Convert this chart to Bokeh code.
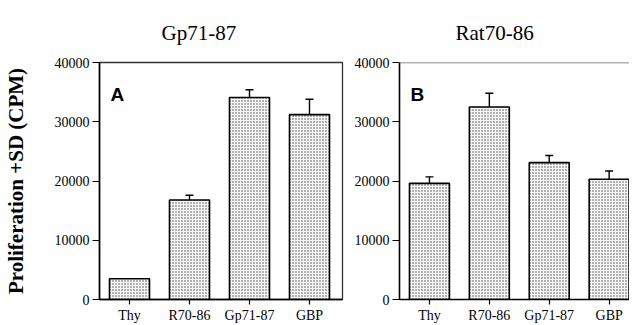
import math
from bokeh.plotting import figure
from bokeh.layouts import row
from bokeh.models import (ColumnDataSource, Whisker, TeeHead, FixedTicker,
                          Label, Span, Range1d)
from bokeh.embed import file_html
from bokeh.resources import INLINE

# ---- data ----
categories = ["Thy", "R70-86", "Gp71-87", "GBP"]
a_values = [3500, 16800, 34100, 31200]
a_sd = [0, 800, 1300, 2600]
b_values = [19600, 32500, 23100, 20300]
b_sd = [1100, 2300, 1200, 1400]
y_ticks = [0, 10000, 20000, 30000, 40000]
titles = ["Gp71-87", "Rat70-86"]
panel_letters = ["A", "B"]
y_label = "Proliferation +SD (CPM)"

SERIF = "Liberation Serif"
SANS = "Liberation Sans"
Y_MAX = 40000


def make_panel(values, sd, title, letter, frame_w, border_right,
               x_end, outline, title_offset):
    xs = list(range(len(categories)))
    src = ColumnDataSource(dict(
        x=xs, top=values, upper=[v + s for v, s in zip(values, sd)]))
    p = figure(frame_width=frame_w, frame_height=237, output_backend="svg",
               toolbar_location=None, title=title,
               x_range=Range1d(-0.5, x_end), y_range=Range1d(0, Y_MAX),
               min_border_left=0, min_border_right=border_right,
               min_border_top=0, min_border_bottom=0)
    p.background_fill_color = "white"
    p.border_fill_color = "white"
    p.grid.visible = False
    p.title.text_font = SERIF
    p.title.text_font_size = "21px"
    p.title.text_font_style = "normal"
    p.title.text_color = "black"
    p.title.align = "left"
    p.title.offset = title_offset
    p.title.standoff = 36
    if outline:
        p.outline_line_color = "#333333"
        p.outline_line_width = 1.3
    else:
        p.outline_line_color = None
        p.add_layout(Span(location=Y_MAX, dimension="width",
                          line_color="#666666", line_width=1.3))

    p.vbar(x="x", top="top", bottom=0, width=0.667, source=src,
           fill_color="#f8f8f8", hatch_pattern="dot", hatch_scale=3,
           hatch_color="#444444", hatch_weight=1,
           line_color="black", line_width=1.6)
    p.add_layout(Whisker(base="x", lower="top", upper="upper", source=src,
                         dimension="height", lower_head=None,
                         upper_head=TeeHead(size=8, line_width=1.4,
                                            line_color="black"),
                         line_width=1.4, line_color="black"))

    for ax in (p.xaxis[0], p.yaxis[0]):
        ax.axis_line_color = "black"
        ax.axis_line_width = 1.6
        ax.major_tick_line_color = "black"
        ax.major_tick_line_width = 1.2
        ax.major_tick_in = 0
        ax.minor_tick_line_color = None
        ax.major_label_text_font = SERIF
        ax.major_label_text_font_size = "14px"
        ax.major_label_text_color = "black"

    p.xaxis.ticker = FixedTicker(ticks=xs)
    p.xaxis.major_label_overrides = {i: c for i, c in enumerate(categories)}
    p.xaxis.major_tick_out = 5
    p.xaxis.major_label_standoff = 3
    p.yaxis.ticker = FixedTicker(ticks=y_ticks)
    p.yaxis.major_tick_out = 7
    p.yaxis.major_label_standoff = 3

    p.add_layout(Label(x=-0.5, y=Y_MAX, x_units="data", y_units="data",
                       x_offset=11, y_offset=-32, text=letter,
                       text_font=SANS, text_font_size="19px",
                       text_font_style="bold", text_align="left",
                       text_baseline="alphabetic", text_color="black"))
    return p


p1 = make_panel(a_values, a_sd, titles[0], panel_letters[0], frame_w=243,
                border_right=9, x_end=3.55, outline=True, title_offset=62)
p1.yaxis.axis_label = y_label
p1.yaxis.axis_label_text_font = SERIF
p1.yaxis.axis_label_text_font_size = "21px"
p1.yaxis.axis_label_text_font_style = "bold"
p1.yaxis.axis_label_text_color = "black"
p1.yaxis.axis_label_standoff = 24

p2 = make_panel(b_values, b_sd, titles[1], panel_letters[1], frame_w=230,
                border_right=0, x_end=3.34, outline=False, title_offset=56)

layout = row(p1, p2)
open("out.html", "w").write(file_html(layout, INLINE))
